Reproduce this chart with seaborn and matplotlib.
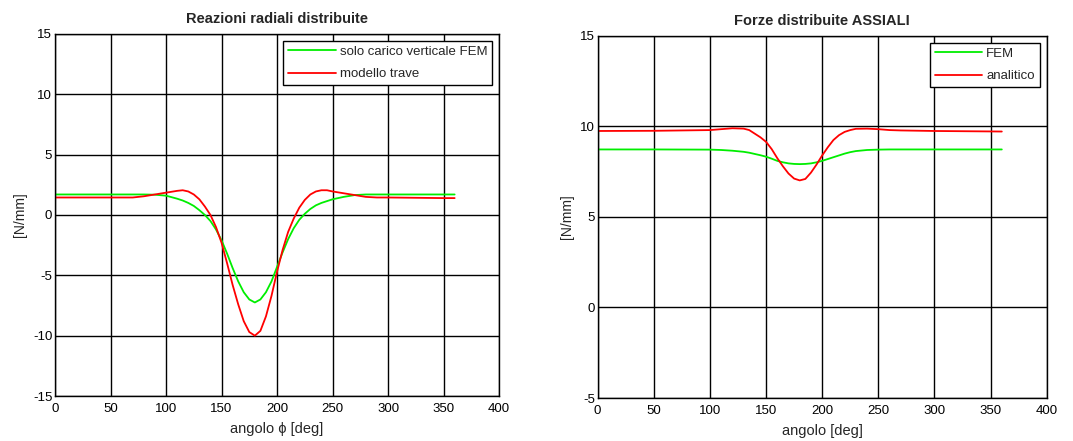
import numpy as np
import pandas as pd
import matplotlib
matplotlib.use("Agg")
import matplotlib.pyplot as plt
import seaborn as sns

# Reazioni radiali distribuite
ang_rad = [0, 50, 70, 80, 90, 100, 110, 115, 120, 125, 130, 135, 140, 145, 150, 155, 160,
           165, 170, 175, 180, 185, 190, 195, 200, 205, 210, 215, 220, 225, 230, 235, 240,
           245, 250, 260, 270, 280, 290, 300, 350, 360]
fem_rad = [1.7, 1.7, 1.7, 1.7, 1.68, 1.6, 1.35, 1.2, 1.0, 0.75, 0.4, 0.0, -0.5, -1.2, -2.1,
           -3.2, -4.4, -5.5, -6.4, -7.0, -7.25, -7.0, -6.4, -5.5, -4.3, -3.1, -2.0, -1.1, -0.4,
           0.1, 0.5, 0.8, 1.0, 1.15, 1.3, 1.5, 1.65, 1.7, 1.7, 1.7, 1.7, 1.7]
trave_rad = [1.45, 1.45, 1.45, 1.55, 1.7, 1.85, 2.0, 2.05, 1.95, 1.7, 1.3, 0.7, 0.0, -1.0,
             -2.3, -4.0, -5.8, -7.4, -8.8, -9.7, -10.0, -9.6, -8.4, -6.7, -4.7, -2.9, -1.4,
             -0.3, 0.6, 1.25, 1.7, 1.95, 2.05, 2.05, 1.95, 1.8, 1.65, 1.5, 1.45, 1.45, 1.4, 1.4]

# Forze distribuite ASSIALI
ang_ass = [0, 50, 100, 110, 120, 130, 135, 140, 145, 150, 155, 160, 165, 170, 175, 180,
           185, 190, 195, 200, 205, 210, 215, 220, 225, 230, 240, 250, 260, 270, 300, 360]
fem_ass = [8.73, 8.73, 8.72, 8.7, 8.66, 8.6, 8.55, 8.48, 8.41, 8.33, 8.22, 8.1, 8.02, 7.96,
           7.93, 7.92, 7.93, 7.96, 8.02, 8.1, 8.2, 8.3, 8.4, 8.5, 8.58, 8.64, 8.7, 8.72, 8.73,
           8.73, 8.73, 8.73]
anal_ass = [9.75, 9.76, 9.8, 9.85, 9.9, 9.88, 9.8, 9.6, 9.4, 9.15, 8.75, 8.25, 7.8, 7.4,
            7.12, 7.02, 7.1, 7.45, 7.9, 8.4, 8.85, 9.25, 9.52, 9.7, 9.8, 9.87, 9.88, 9.85,
            9.8, 9.78, 9.75, 9.72]

df_rad = pd.concat([
    pd.DataFrame({'ang': ang_rad, 'val': fem_rad, 'serie': 'solo carico verticale FEM'}),
    pd.DataFrame({'ang': ang_rad, 'val': trave_rad, 'serie': 'modello trave'}),
])
df_ass = pd.concat([
    pd.DataFrame({'ang': ang_ass, 'val': fem_ass, 'serie': 'FEM'}),
    pd.DataFrame({'ang': ang_ass, 'val': anal_ass, 'serie': 'analitico'}),
])

sns.set_style("white")
plt.rcParams['font.family'] = ['Liberation Sans', 'DejaVu Sans']
plt.rcParams['axes.unicode_minus'] = False

fig = plt.figure(figsize=(10.73, 4.41), dpi=100)
ax1 = fig.add_axes([0.0513, 0.102, 0.4138, 0.821])
ax2 = fig.add_axes([0.557, 0.0975, 0.4185, 0.821])

sns.lineplot(data=df_rad, x='ang', y='val', hue='serie', ax=ax1,
             palette=['#00ee00', '#ff0000'], linewidth=1.3)
sns.lineplot(data=df_ass, x='ang', y='val', hue='serie', ax=ax2,
             palette=['#00ee00', '#ff0000'], linewidth=1.3)

for ax, ylim, yticks in [(ax1, (-15, 15), np.arange(-15, 16, 5)),
                         (ax2, (-5, 15), np.arange(-5, 16, 5))]:
    ax.set_xlim(0, 400)
    ax.set_ylim(*ylim)
    ax.set_xticks(np.arange(0, 401, 50))
    ax.set_yticks(yticks)
    ax.grid(True, color='black', linewidth=1.0)
    ax.set_axisbelow(True)
    for s in ax.spines.values():
        s.set_color('black')
        s.set_linewidth(1.0)
    ax.tick_params(direction='in', labelsize=9.5, length=3, pad=2, colors='black')
    ax.tick_params(axis='x', pad=5)
    ax.set_ylabel('[N/mm]', fontsize=10, labelpad=4)
    leg = ax.legend(loc='upper right', fontsize=9.5, frameon=True, fancybox=False,
                    edgecolor='black', framealpha=1, borderaxespad=0.5,
                    handlelength=3.6, handletextpad=0.3, labelspacing=0.75)
    leg.get_frame().set_linewidth(1.0)

ax1.set_xlabel('angolo \u03d5 [deg]', fontsize=10.5, labelpad=5)
ax2.set_xlabel('angolo [deg]', fontsize=10.5, labelpad=5)
ax1.set_title('Reazioni radiali distribuite', fontsize=10.5, fontweight='bold', pad=8)
ax2.set_title('Forze distribuite ASSIALI', fontsize=10.5, fontweight='bold', pad=8)

fig.savefig('out.png', dpi=100)
